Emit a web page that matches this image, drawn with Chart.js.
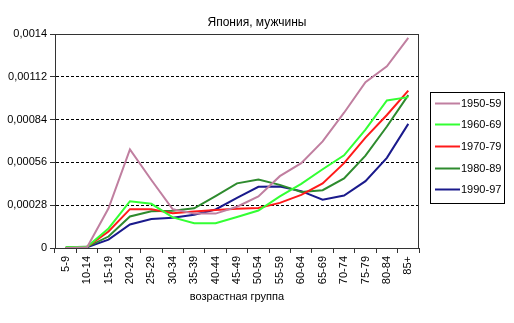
<!DOCTYPE html>
<html><head><meta charset="utf-8">
<script src="https://cdn.jsdelivr.net/npm/chart.js@4/dist/chart.umd.min.js"></script>
<style>html,body{margin:0;padding:0;background:#fff}canvas{display:block}</style>
</head><body><canvas id="c" width="514" height="323"></canvas>
<script>
const chartTitle = 'Япония, мужчины';
const xTitle = 'возрастная группа';
const categories = ['5-9','10-14','15-19','20-24','25-29','30-34','35-39','40-44','45-49','50-54','55-59','60-64','65-69','70-74','75-79','80-84','85+'];
const seriesNames = ['1950-59','1960-69','1970-79','1980-89','1990-97'];
const s1950 = [0, 0.000005, 0.00026, 0.000645, 0.000445, 0.000253, 0.000225, 0.000225, 0.00027, 0.000337, 0.00047, 0.000555, 0.000697, 0.000885, 0.001085, 0.001188, 0.001374];
const s1960 = [0.000005, 0.000008, 0.000128, 0.000306, 0.000289, 0.0002, 0.000162, 0.000162, 0.000203, 0.000245, 0.000338, 0.00042, 0.000515, 0.000606, 0.000775, 0.000965, 0.000987];
const s1970 = [0, 0.000008, 0.000108, 0.000254, 0.000254, 0.000228, 0.000239, 0.000249, 0.000256, 0.000262, 0.000295, 0.000347, 0.000422, 0.000555, 0.000722, 0.00087, 0.00103];
const s1980 = [0.000005, 0.000008, 0.000075, 0.000206, 0.00024, 0.000244, 0.00026, 0.00034, 0.000423, 0.000448, 0.000413, 0.000366, 0.000378, 0.000455, 0.000604, 0.000795, 0.001];
const s1990 = [0, 0.000005, 0.000055, 0.000154, 0.00019, 0.000198, 0.000217, 0.000252, 0.000328, 0.0004, 0.000402, 0.000372, 0.000316, 0.000343, 0.000437, 0.00059, 0.000812];
const yTicks = [0, 0.00028, 0.00056, 0.00084, 0.00112, 0.0014];
const yTickLabels = ['0', '0,00028', '0,00056', '0,00084', '0,00112', '0,0014'];
const seriesColors = ['#C07FA0', '#33FF33', '#FF1A1A', '#2E8B2E', '#1A1A8C'];

const FONT = '"Liberation Sans", Arial, sans-serif';
Chart.defaults.font.family = FONT;
Chart.defaults.color = '#000';

const allSeries = [s1950, s1960, s1970, s1980, s1990];

const decor = {
  id: 'decor',
  afterDraw(chart) {
    const ctx = chart.ctx;
    const a = chart.chartArea;
    ctx.save();
    ctx.strokeStyle = '#333';
    ctx.lineWidth = 1;
    ctx.strokeRect(Math.round(a.left) + 0.5, Math.round(a.top) + 0.5, Math.round(a.right - a.left) - 1, Math.round(a.bottom - a.top));
    // title
    ctx.fillStyle = '#000';
    ctx.font = '12px ' + FONT;
    ctx.textAlign = 'center';
    ctx.textBaseline = 'middle';
    ctx.fillText(chartTitle, 257, 23);
    // legend
    ctx.strokeStyle = '#000';
    ctx.strokeRect(430.5, 92.5, 74, 111);
    ctx.font = '11px ' + FONT;
    ctx.textAlign = 'left';
    chart.data.datasets.forEach((ds, i) => {
      const y = Math.round(102.7 + i * 21.6) + 0.5;
      ctx.strokeStyle = ds.borderColor;
      ctx.lineWidth = 2;
      ctx.beginPath();
      ctx.moveTo(435, y);
      ctx.lineTo(460, y);
      ctx.stroke();
      ctx.fillStyle = '#000';
      ctx.fillText(ds.label, 461, y);
    });
    ctx.restore();
  }
};

new Chart(document.getElementById('c'), {
  type: 'line',
  data: {
    labels: categories,
    datasets: seriesNames.map((n, i) => ({
      label: n,
      data: allSeries[i],
      borderColor: seriesColors[i],
      backgroundColor: seriesColors[i],
      borderWidth: 2,
      pointRadius: 0,
      tension: 0,
      fill: false
    }))
  },
  options: {
    responsive: false,
    animation: false,
    devicePixelRatio: 1,
    layout: { padding: { top: 34, right: 95, left: 0, bottom: 0 } },
    plugins: { legend: { display: false }, title: { display: false }, tooltip: { enabled: false } },
    scales: {
      x: {
        type: 'category',
        offset: true,
        grid: { offset: true, drawOnChartArea: false, tickLength: 5, tickColor: '#333' },
        border: { color: '#333' },
        ticks: { minRotation: 90, maxRotation: 90, autoSkip: false, font: { size: 11 }, padding: 3, color: '#000' },
        title: { display: true, text: xTitle, font: { size: 11 }, color: '#000', padding: { top: 0, bottom: 19 } },
        afterFit: s => { s.height = 75; }
      },
      y: {
        min: 0,
        max: 0.0014,
        afterBuildTicks: s => { s.ticks = yTicks.map(v => ({ value: v })); },
        ticks: { callback: (v, i) => yTickLabels[i], font: { size: 11 }, padding: 3, color: '#000' },
        grid: {
          color: c => (c.index > 0 && c.index < yTicks.length - 1) ? '#000' : 'rgba(0,0,0,0)',
          tickColor: '#333', tickLength: 5, lineWidth: 1
        },
        border: { color: '#333', dash: [3, 2] },
        afterFit: s => { s.width = 55; }
      }
    }
  },
  plugins: [decor]
});
</script>
</body></html>
